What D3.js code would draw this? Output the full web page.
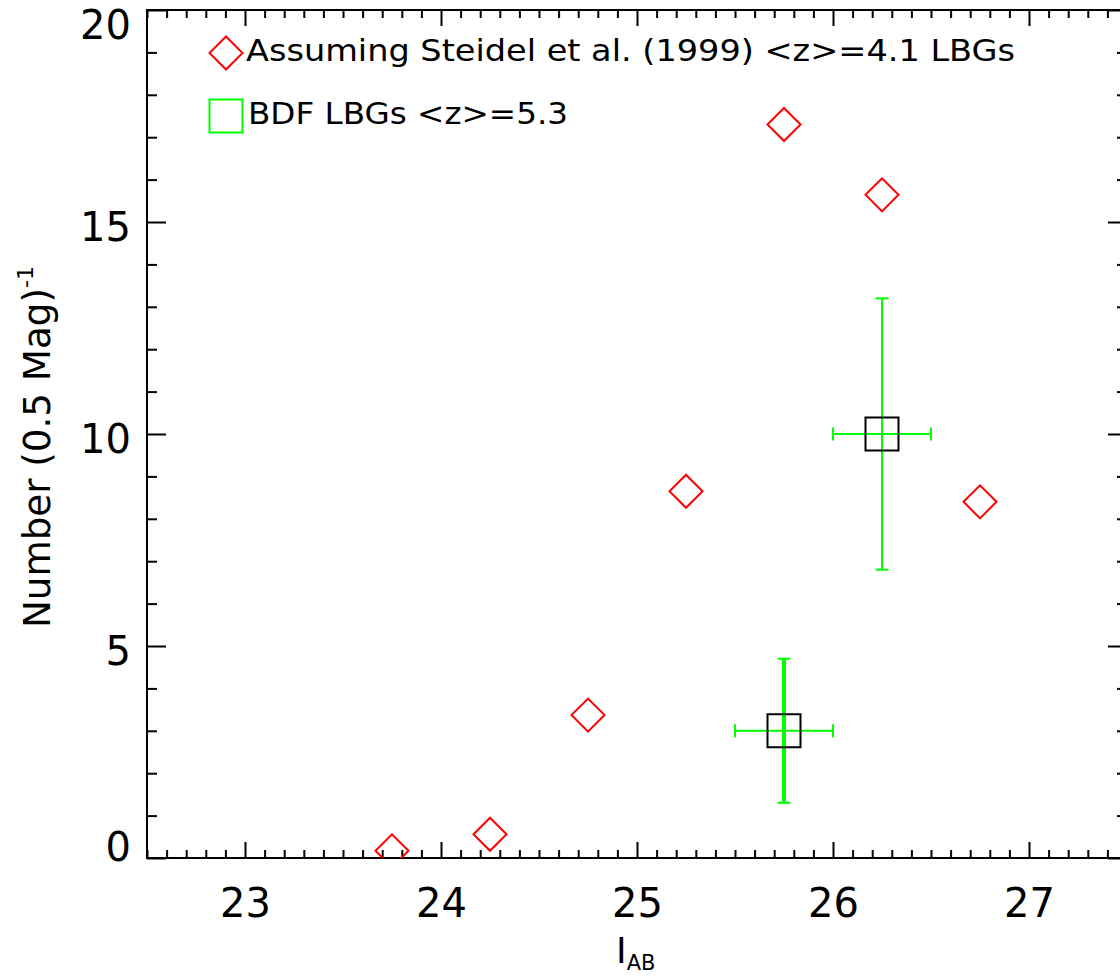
<!DOCTYPE html>
<html>
<head>
<meta charset="utf-8">
<script src="https://cdn.jsdelivr.net/npm/d3@7"></script>
<style>
  html, body { margin: 0; padding: 0; background: #fff; }
  svg { display: block; }
  text { font-family: "DejaVu Sans", sans-serif; fill: #000; }
</style>
</head>
<body>
<svg id="chart" width="1120" height="978"></svg>
<script>
// Magnitude bins (centre of each 0.5 mag bin) and predicted counts
const steidelMag = [23.75, 24.25, 24.75, 25.25, 25.75, 26.25, 26.75];
const steidelCounts = [0.17, 0.56, 3.37, 8.65, 17.3, 15.64, 8.4];

// Observed BDF Lyman-break galaxies with Poisson errors
const bdfMag = [25.75, 26.25];
const bdfCounts = [3, 10];
const bdfYErr = [1.7, 3.2];
const bdfXErr = [0.25, 0.25];
const bdfBarWidth = [4, 2];

// Axis ticks
const xMajor = [23, 24, 25, 26, 27];
const yMajor = [0, 5, 10, 15, 20];
const xDomain = [22.5, 27.5];
const yDomain = [0, 20];

const legendLabels = [
  "Assuming Steidel et al. (1999) <z>=4.1 LBGs",
  "BDF LBGs <z>=5.3"
];

(function draw() {
const svg = d3.select("#chart");
const pl = 147, pr = 1127, pt = 10, pb = 858;

const x = d3.scaleLinear().domain(xDomain).range([pl, pr]);
const y = d3.scaleLinear().domain(yDomain).range([pb, pt]);

const xMinor = d3.range(Math.round(xDomain[0] * 10), Math.round(xDomain[1] * 10) + 1)
  .map(v => v / 10).filter(v => !xMajor.some(m => Math.abs(m - v) < 1e-9));
const yMinor = d3.range(yDomain[0], yDomain[1] + 1).filter(v => v % 5 !== 0);

function styleAxis(g) {
  g.select(".domain").remove();
  g.selectAll(".tick line").attr("stroke", "#000").attr("stroke-width", 2);
}

// Bottom axis: labelled major ticks plus minor ticks
const gBottom = svg.append("g").attr("transform", `translate(0,${pb})`)
  .call(d3.axisBottom(x).tickValues(xMajor).tickFormat(d3.format("d"))
    .tickSizeInner(-16).tickSizeOuter(0).tickPadding(31));
styleAxis(gBottom);
gBottom.selectAll(".tick text").attr("font-size", 40).attr("font-family", "DejaVu Sans").attr("fill", "#000");
svg.append("g").attr("transform", `translate(0,${pb})`)
  .call(d3.axisBottom(x).tickValues(xMinor).tickFormat("").tickSizeInner(-8).tickSizeOuter(0))
  .call(styleAxis);

// Top axis
svg.append("g").attr("transform", `translate(0,${pt})`)
  .call(d3.axisTop(x).tickValues(xMajor).tickFormat("").tickSizeInner(-16).tickSizeOuter(0))
  .call(styleAxis);
svg.append("g").attr("transform", `translate(0,${pt})`)
  .call(d3.axisTop(x).tickValues(xMinor).tickFormat("").tickSizeInner(-8).tickSizeOuter(0))
  .call(styleAxis);

// Left axis
const gLeft = svg.append("g").attr("transform", `translate(${pl},0)`)
  .call(d3.axisLeft(y).tickValues(yMajor).tickFormat(d3.format("d"))
    .tickSizeInner(-19).tickSizeOuter(0).tickPadding(16));
styleAxis(gLeft);
gLeft.selectAll(".tick text")
  .attr("font-size", 40).attr("font-family", "DejaVu Sans").attr("fill", "#000")
  .attr("dy", d => {
    const ty = y(d);
    const base = Math.max(38.5, Math.min(860, ty + 18));
    return (base - ty) + "px";
  });
svg.append("g").attr("transform", `translate(${pl},0)`)
  .call(d3.axisLeft(y).tickValues(yMinor).tickFormat("").tickSizeInner(-10).tickSizeOuter(0))
  .call(styleAxis);

// Right axis
svg.append("g").attr("transform", `translate(${pr},0)`)
  .call(d3.axisRight(y).tickValues(yMajor).tickFormat("").tickSizeInner(-19).tickSizeOuter(0))
  .call(styleAxis);
svg.append("g").attr("transform", `translate(${pr},0)`)
  .call(d3.axisRight(y).tickValues(yMinor).tickFormat("").tickSizeInner(-10).tickSizeOuter(0))
  .call(styleAxis);

// Frame
svg.append("rect")
  .attr("x", pl).attr("y", pt)
  .attr("width", pr - pl).attr("height", pb - pt)
  .attr("fill", "none").attr("stroke", "#000").attr("stroke-width", 2);

// Clip symbols to the plotting region
svg.append("defs").append("clipPath").attr("id", "plotClip")
  .append("rect").attr("x", pl).attr("y", pt)
  .attr("width", pr - pl).attr("height", pb - pt);
const plot = svg.append("g").attr("clip-path", "url(#plotClip)");

const diamond = d3.symbol().type(d3.symbolSquare).size(544);
const square = d3.symbol().type(d3.symbolSquare).size(1089);

// Predicted counts from the z~4 luminosity function
plot.selectAll("path.steidel")
  .data(steidelMag.map((m, i) => ({ m, n: steidelCounts[i] })))
  .join("path")
  .attr("class", "steidel")
  .attr("d", diamond)
  .attr("transform", d => `translate(${x(d.m)},${y(d.n)}) rotate(45)`)
  .attr("fill", "none").attr("stroke", "#ff0000").attr("stroke-width", 2);

// BDF points with error bars
const bdf = bdfMag.map((m, i) => ({
  m, n: bdfCounts[i], ey: bdfYErr[i], ex: bdfXErr[i], w: bdfBarWidth[i]
}));
const capHalf = 6.5;
const eb = plot.selectAll("g.bdf").data(bdf).join("g").attr("class", "bdf");
eb.append("line")
  .attr("x1", d => x(d.m)).attr("x2", d => x(d.m))
  .attr("y1", d => y(d.n + d.ey)).attr("y2", d => y(d.n - d.ey))
  .attr("stroke", "#00ff00").attr("stroke-width", d => d.w);
eb.append("line")
  .attr("x1", d => x(d.m) - capHalf).attr("x2", d => x(d.m) + capHalf)
  .attr("y1", d => y(d.n + d.ey)).attr("y2", d => y(d.n + d.ey))
  .attr("stroke", "#00ff00").attr("stroke-width", 2);
eb.append("line")
  .attr("x1", d => x(d.m) - capHalf).attr("x2", d => x(d.m) + capHalf)
  .attr("y1", d => y(d.n - d.ey)).attr("y2", d => y(d.n - d.ey))
  .attr("stroke", "#00ff00").attr("stroke-width", 2);
eb.append("line")
  .attr("x1", d => x(d.m - d.ex)).attr("x2", d => x(d.m + d.ex))
  .attr("y1", d => y(d.n)).attr("y2", d => y(d.n))
  .attr("stroke", "#00ff00").attr("stroke-width", 2);
eb.append("line")
  .attr("x1", d => x(d.m - d.ex)).attr("x2", d => x(d.m - d.ex))
  .attr("y1", d => y(d.n) - capHalf).attr("y2", d => y(d.n) + capHalf)
  .attr("stroke", "#00ff00").attr("stroke-width", 2);
eb.append("line")
  .attr("x1", d => x(d.m + d.ex)).attr("x2", d => x(d.m + d.ex))
  .attr("y1", d => y(d.n) - capHalf).attr("y2", d => y(d.n) + capHalf)
  .attr("stroke", "#00ff00").attr("stroke-width", 2);
eb.append("path")
  .attr("d", square)
  .attr("transform", d => `translate(${x(d.m)},${y(d.n)})`)
  .attr("fill", "none").attr("stroke", "#000").attr("stroke-width", 2);

// Legend
const legend = svg.append("g");
legend.append("path")
  .attr("d", diamond)
  .attr("transform", "translate(226,53) rotate(45)")
  .attr("fill", "none").attr("stroke", "#ff0000").attr("stroke-width", 2);
legend.append("text")
  .attr("x", 246).attr("y", 61)
  .attr("font-size", 31)
  .attr("textLength", 769).attr("lengthAdjust", "spacingAndGlyphs")
  .text(legendLabels[0]);
legend.append("path")
  .attr("d", square)
  .attr("transform", "translate(226,116)")
  .attr("fill", "none").attr("stroke", "#00ff00").attr("stroke-width", 2);
legend.append("text")
  .attr("x", 248).attr("y", 124)
  .attr("font-size", 31)
  .attr("textLength", 320).attr("lengthAdjust", "spacingAndGlyphs")
  .text(legendLabels[1]);

// Axis titles
const xt = svg.append("text")
  .attr("x", 616).attr("y", 963)
  .attr("font-size", 36);
xt.append("tspan").text("I");
xt.append("tspan").attr("font-size", 21).attr("dy", 7).text("AB");

const yt = svg.append("text")
  .attr("transform", "translate(50,628) rotate(-90)")
  .attr("font-size", 37)
  .attr("textLength", 362).attr("lengthAdjust", "spacingAndGlyphs");
yt.append("tspan").text("Number (0.5 Mag)");
yt.append("tspan").attr("font-size", 22).attr("dy", -17).text("-1");
})();
</script>
</body>
</html>
